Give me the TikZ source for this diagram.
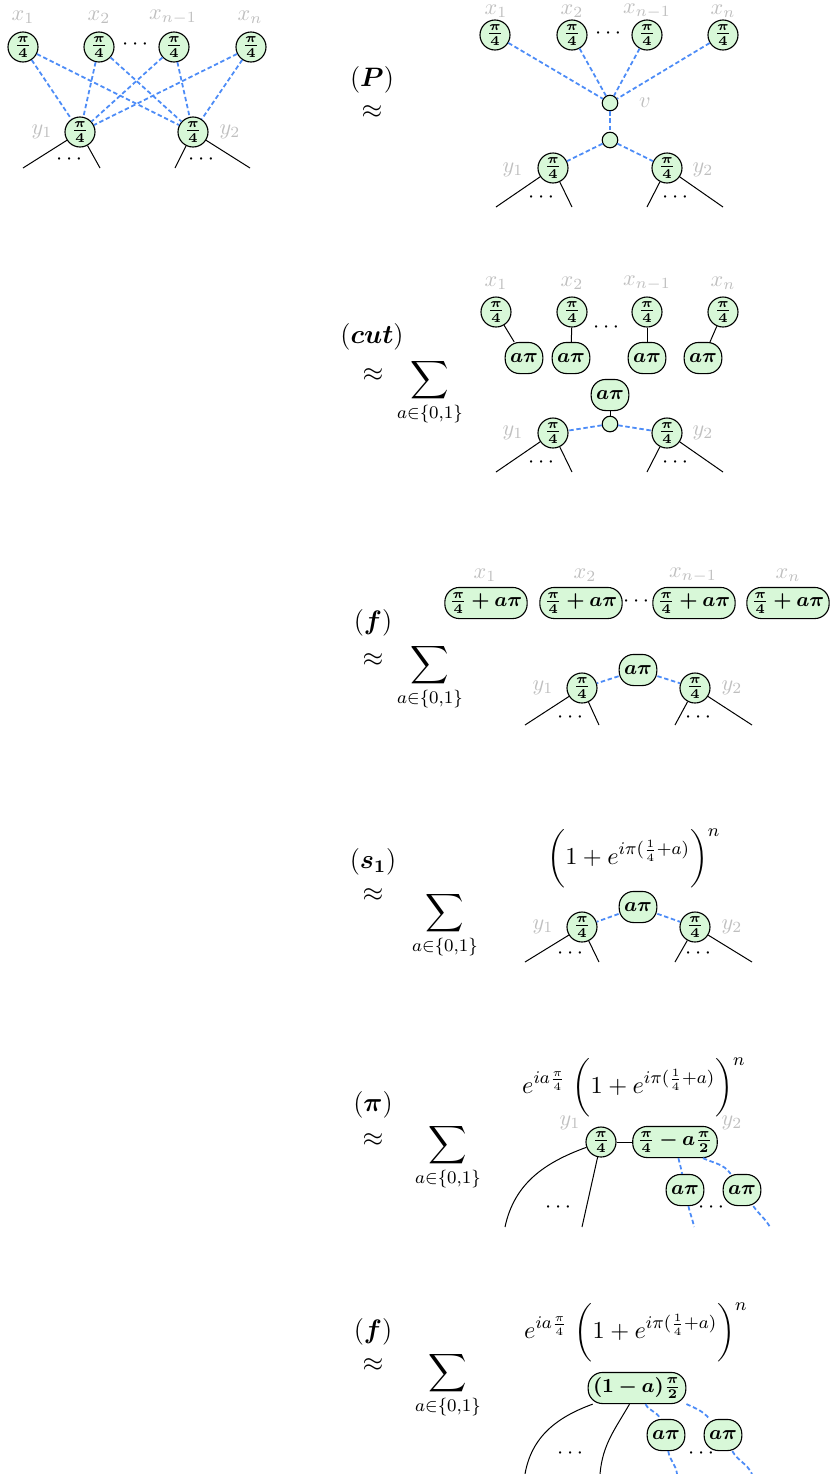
\documentclass[tikz,border=0pt]{standalone}
\usepackage{amsmath}
\usepackage{bm}
\definecolor{zgreen}{HTML}{D8F8D8}
\definecolor{zblue}{HTML}{4D8CF7}
\definecolor{lblgray}{HTML}{BFBFBF}
\tikzset{
 spider/.style={circle,draw,fill=zgreen,inner sep=0.3pt,minimum size=13.5pt,line width=0.5pt,font=\small},
 smalldot/.style={circle,draw,fill=zgreen,inner sep=0pt,minimum size=7pt,line width=0.5pt},
 phase/.style={rounded corners=6.5pt,draw,fill=zgreen,inner xsep=2.2pt,inner ysep=1.2pt,minimum height=14pt,minimum width=16.5pt,line width=0.5pt,font=\small},
 had/.style={draw=zblue,line width=0.8pt,dash pattern=on 2pt off 1.2pt},
 wire/.style={line width=0.45pt},
 lbl/.style={text=lblgray,inner sep=1pt},
 side/.style={font=\large},
 formula/.style={font=\fontsize{11}{13}\selectfont},
 sumnode/.style={anchor=north,inner sep=0pt,font=\large},
}
\newcommand{\qf}{$\bm{\frac{\pi}{4}}$}
\newcommand{\ap}{$\bm{a\pi}$}
\newcommand{\qfap}{$\bm{\frac{\pi}{4}+a\pi}$}
\newcommand{\mysum}{$\displaystyle\sum_{a\in\{0,1\}}$}
\newcommand{\bigform}{$\biggl(1+e^{i\pi(\frac{1}{4}+a)}\biggr)^{n}$}
\newcommand{\eform}{$e^{ia\frac{\pi}{4}}\;\biggl(1+e^{i\pi(\frac{1}{4}+a)}\biggr)^{n}$}
\begin{document}
\begin{tikzpicture}[x=0.45pt,y=-0.45pt]
\useasboundingbox (0,0) rectangle (830,1474);

% ---------- Row 0: top-left ----------
\node[lbl] (lax1) at (23,17) {$x_1$};
\node[lbl] (lax2) at (99,17) {$x_2$};
\node[lbl] (laxn1) at (173,17) {$x_{n-1}$};
\node[lbl] (laxn) at (250,17) {$x_n$};
\node[spider] (ax1) at (23,47) {\qf};
\node[spider] (ax2) at (99,47) {\qf};
\node (adots) at (137,45) {$\cdots$};
\node[spider] (axn1) at (174,47) {\qf};
\node[spider] (axn) at (251,47) {\qf};
\node[spider] (ay1) at (80,132) {\qf};
\node[spider] (ay2) at (193,132) {\qf};
\node[lbl] (lay1) at (42,132) {$y_1$};
\node[lbl] (lay2) at (230,132) {$y_2$};
\coordinate (ay1l) at (23,168);
\coordinate (ay1r) at (100,168);
\coordinate (ay2l) at (175,168);
\coordinate (ay2r) at (250,168);
\node (ay1d) at (71,160) {$\cdots$};
\node (ay2d) at (203,160) {$\cdots$};
\foreach \s in {ax1,ax2,axn1,axn}{
  \draw[had] (\s) -- (ay1);
  \draw[had] (\s) -- (ay2);
}
\draw[wire] (ay1) -- (ay1l); \draw[wire] (ay1) -- (ay1r);
\draw[wire] (ay2) -- (ay2l); \draw[wire] (ay2) -- (ay2r);

% ---------- Row P ----------
\node[side] (pP) at (372,80) {$(\bm{P})$};
\node[side] (pa) at (372,112) {$\approx$};
\node[lbl] (lpx1) at (496,11) {$x_1$};
\node[lbl] (lpx2) at (572,11) {$x_2$};
\node[lbl] (lpxn1) at (647,11) {$x_{n-1}$};
\node[lbl] (lpxn) at (723,11) {$x_n$};
\node[spider] (px1) at (495,35) {\qf};
\node[spider] (px2) at (572,35) {\qf};
\node (pdots) at (610,34) {$\cdots$};
\node[spider] (pxn1) at (647,35) {\qf};
\node[spider] (pxn) at (723,35) {\qf};
\node[smalldot] (pv) at (610,103) {};
\node[lbl] (lpv) at (645,103) {$v$};
\node[smalldot] (pw) at (610,140) {};
\node[spider] (py1) at (553,168) {\qf};
\node[spider] (py2) at (667,168) {\qf};
\node[lbl] (lpy1) at (513,170) {$y_1$};
\node[lbl] (lpy2) at (703,170) {$y_2$};
\coordinate (py1l) at (496,207);
\coordinate (py1r) at (572,207);
\coordinate (py2l) at (647,207);
\coordinate (py2r) at (723,207);
\node (py1d) at (543,198) {$\cdots$};
\node (py2d) at (677,198) {$\cdots$};
\foreach \s in {px1,px2,pxn1,pxn}{ \draw[had] (\s) -- (pv); }
\draw[had] (pv) -- (pw);
\draw[had] (pw) -- (py1);
\draw[had] (pw) -- (py2);
\draw[wire] (py1) -- (py1l); \draw[wire] (py1) -- (py1r);
\draw[wire] (py2) -- (py2l); \draw[wire] (py2) -- (py2r);

% ---------- Row cut ----------
\node[side] (cC) at (372,337) {$(\bm{cut})$};
\node[side] (ca) at (373,375) {$\approx$};
\node[sumnode] (cs) at (430,358) {\mysum};
\node[lbl] (lcx1) at (496,283) {$x_1$};
\node[lbl] (lcx2) at (572,283) {$x_2$};
\node[lbl] (lcxn1) at (647,283) {$x_{n-1}$};
\node[lbl] (lcxn) at (723,283) {$x_n$};
\node[spider] (cx1) at (496,312) {\qf};
\node[spider] (cx2) at (572,312) {\qf};
\node[spider] (cxn1) at (647,312) {\qf};
\node[spider] (cxn) at (723,312) {\qf};
\node (cdots) at (608,328) {$\cdots$};
\node[phase] (cp1) at (524,358) {\ap};
\node[phase] (cp2) at (571,358) {\ap};
\node[phase] (cpn1) at (647,358) {\ap};
\node[phase] (cpn) at (703,358) {\ap};
\node[phase] (cpm) at (610,395) {\ap};
\node[smalldot] (cw) at (610,424) {};
\node[spider] (cy1) at (553,433) {\qf};
\node[spider] (cy2) at (667,433) {\qf};
\node[lbl] (lcy1) at (513,433) {$y_1$};
\node[lbl] (lcy2) at (703,433) {$y_2$};
\coordinate (cy1l) at (496,472);
\coordinate (cy1r) at (572,472);
\coordinate (cy2l) at (647,472);
\coordinate (cy2r) at (723,472);
\node (cy1d) at (543,463) {$\cdots$};
\node (cy2d) at (677,463) {$\cdots$};
\draw[wire] (cx1) -- (cp1);
\draw[wire] (cx2) -- (cp2);
\draw[wire] (cxn1) -- (cpn1);
\draw[wire] (cxn) -- (cpn);
\draw[wire] (cpm) -- (cw);
\draw[had] (cw) -- (cy1);
\draw[had] (cw) -- (cy2);
\draw[wire] (cy1) -- (cy1l); \draw[wire] (cy1) -- (cy1r);
\draw[wire] (cy2) -- (cy2l); \draw[wire] (cy2) -- (cy2r);

% ---------- Row f ----------
\node[side] (fF) at (373,623) {$(\bm{f})$};
\node[side] (fa) at (373,660) {$\approx$};
\node[sumnode] (fs) at (430,643) {\mysum};
\node[lbl] (lfx1) at (485,575) {$x_1$};
\node[lbl] (lfx2) at (585,575) {$x_2$};
\node[lbl] (lfxn1) at (693,575) {$x_{n-1}$};
\node[lbl] (lfxn) at (788,575) {$x_n$};
\node[phase] (fx1) at (486,603) {\qfap};
\node[phase] (fx2) at (581,603) {\qfap};
\node (fdots) at (638,602) {$\cdots$};
\node[phase] (fxn1) at (694,603) {\qfap};
\node[phase] (fxn) at (788,603) {\qfap};
\node[phase] (fpm) at (638,670) {\ap};
\node[spider] (fy1) at (582,688) {\qf};
\node[spider] (fy2) at (695,688) {\qf};
\node[lbl] (lfy1) at (543,688) {$y_1$};
\node[lbl] (lfy2) at (732,688) {$y_2$};
\coordinate (fy1l) at (525,725);
\coordinate (fy1r) at (599,725);
\coordinate (fy2l) at (675,725);
\coordinate (fy2r) at (752,725);
\node (fy1d) at (572,718) {$\cdots$};
\node (fy2d) at (700,718) {$\cdots$};
\draw[had] (fpm) -- (fy1);
\draw[had] (fpm) -- (fy2);
\draw[wire] (fy1) -- (fy1l); \draw[wire] (fy1) -- (fy1r);
\draw[wire] (fy2) -- (fy2l); \draw[wire] (fy2) -- (fy2r);

% ---------- Row s1 ----------
\node[side] (sS) at (373,862) {$(\bm{s_1})$};
\node[side] (sa) at (373,895) {$\approx$};
\node[sumnode] (ss) at (445,891) {\mysum};
\node[formula] (sform) at (634,858) {\bigform};
\node[phase] (spm) at (638,907) {\ap};
\node[spider] (sy1) at (582,927) {\qf};
\node[spider] (sy2) at (695,927) {\qf};
\node[lbl] (lsy1) at (543,927) {$y_1$};
\node[lbl] (lsy2) at (732,927) {$y_2$};
\coordinate (sy1l) at (525,962);
\coordinate (sy1r) at (599,962);
\coordinate (sy2l) at (675,962);
\coordinate (sy2r) at (752,962);
\node (sy1d) at (572,954) {$\cdots$};
\node (sy2d) at (700,954) {$\cdots$};
\draw[had] (spm) -- (sy1);
\draw[had] (spm) -- (sy2);
\draw[wire] (sy1) -- (sy1l); \draw[wire] (sy1) -- (sy1r);
\draw[wire] (sy2) -- (sy2l); \draw[wire] (sy2) -- (sy2r);

% ---------- Row pi ----------
\node[side] (qP) at (373,1105) {$(\bm{\pi})$};
\node[side] (qa) at (373,1140) {$\approx$};
\node[sumnode] (qs) at (448,1123) {\mysum};
\node[formula] (qform) at (634,1087) {\eform};
\node[lbl] (lqy1) at (570,1123) {$y_1$};
\node[lbl] (lqy2) at (732,1123) {$y_2$};
\node[spider] (qy1) at (601,1142) {\qf};
\node[phase] (qbig) at (675,1142) {$\bm{\frac{\pi}{4}-a\frac{\pi}{2}}$};
\node[phase] (qp1) at (685,1190) {\ap};
\node[phase] (qp2) at (742,1190) {\ap};
\coordinate (qe1) at (505,1227);
\coordinate (qe2) at (582,1227);
\coordinate (qe3) at (694,1227);
\coordinate (qe4) at (770,1227);
\node (qd1) at (560,1208) {$\cdots$};
\node (qd2) at (713,1208) {$\cdots$};
\draw[wire] (qy1) -- (qbig);
\draw[wire] (qy1) to[out=200,in=78] (qe1);
\draw[wire] (qy1) -- (qe2);
\draw[had] (qbig) to[out=-78,in=100] (qp1);
\draw[had] (qp1) to[out=-78,in=100] (qe3);
\draw[had] (qbig.-30) to[out=-25,in=125] (qp2);
\draw[had] (qp2) to[out=-55,in=120] (qe4);

% ---------- Row f (final) ----------
\node[side] (gF) at (373,1332) {$(\bm{f})$};
\node[side] (ga) at (373,1365) {$\approx$};
\node[sumnode] (gs) at (448,1351) {\mysum};
\node[formula] (gform) at (636,1332) {\eform};
\node[phase] (gbig) at (637,1388) {$\bm{(1-a)\frac{\pi}{2}}$};
\node[phase] (gp1) at (666,1435) {\ap};
\node[phase] (gp2) at (723,1435) {\ap};
\coordinate (ge1) at (525,1474);
\coordinate (ge2) at (600,1474);
\coordinate (ge3) at (677,1474);
\coordinate (ge4) at (752,1474);
\node (gd1) at (572,1454) {$\cdots$};
\node (gd2) at (703,1454) {$\cdots$};
\draw[wire] (gbig.200) to[out=200,in=80] (ge1);
\draw[wire] (gbig.-115) to[out=-120,in=85] (ge2);
\draw[had] (gbig.-62) to[out=-65,in=110] (gp1);
\draw[had] (gp1) to[out=-82,in=95] (ge3);
\draw[had] (gbig.-18) to[out=-25,in=130] (gp2);
\draw[had] (gp2) to[out=-60,in=115] (ge4);
\end{tikzpicture}
\end{document}
